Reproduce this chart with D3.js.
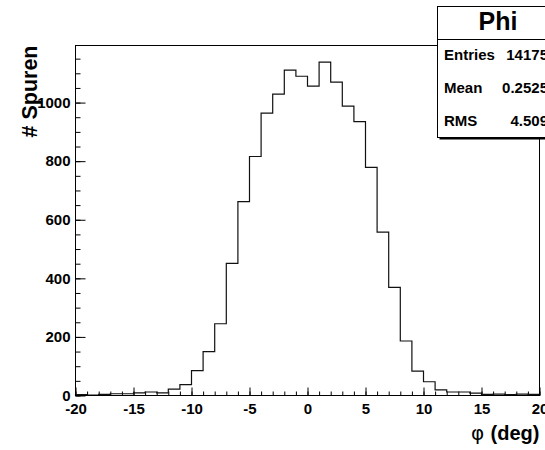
<!DOCTYPE html>
<html>
<head>
<meta charset="utf-8">
<script src="https://cdn.jsdelivr.net/npm/d3@7"></script>
<style>
    body { margin: 0; background: #ffffff; }
    svg text { font-family: "Liberation Sans", Arial, Helvetica, sans-serif; font-weight: bold; fill: #000; }
</style>
</head>
<body>
<svg id="drawing_region"></svg>
<script>
// phi distribution, bins of 1 deg from -20 to 20
const bin_edges = [-20, -19, -18, -17, -16, -15, -14, -13, -12, -11, -10, -9, -8, -7, -6, -5, -4, -3, -2, -1,
                   0, 1, 2, 3, 4, 5, 6, 7, 8, 9, 10, 11, 12, 13, 14, 15, 16, 17, 18, 19, 20];
const counts = [3, 1, 4, 6, 6, 9, 12, 9, 22, 37, 85, 150, 245, 451, 662, 816, 964, 1029, 1111, 1090,
                1056, 1138, 1070, 988, 935, 779, 558, 369, 186, 83, 47, 19, 12, 12, 8, 4, 5, 3, 5, 4];

const x_ticks = [-20, -15, -10, -5, 0, 5, 10, 15, 20];
const x_tick_labels = ["-20", "-15", "-10", "-5", "0", "5", "10", "15", "20"];
const y_ticks = [0, 200, 400, 600, 800, 1000];
const y_tick_labels = ["0", "200", "400", "600", "800", "1000"];

const hist_title = "Phi";
const stat_names = ["Entries", "Mean", "RMS"];
const stat_values = ["14175", "0.2525", "4.509"];

const x_title = "(deg)";
const y_title = "# Spuren";

var config = {
    parent: '#drawing_region',
    width: 545,
    height: 450,
    frame: {left: 75.5, right: 539.5, top: 45.5, bottom: 395.5}
};

const svg = d3.select(config.parent)
    .attr('width', config.width)
    .attr('height', config.height);

const xscale = d3.scaleLinear()
    .domain([bin_edges[0], bin_edges[bin_edges.length - 1]])
    .range([config.frame.left, config.frame.right]);

// ROOT puts the maximum 5% above the highest bin
const yscale = d3.scaleLinear()
    .domain([0, d3.max(counts) * 1.05])
    .range([config.frame.bottom, config.frame.top]);

// minor ticks
svg.append('g')
    .attr('transform', `translate(0, ${config.frame.bottom})`)
    .call(d3.axisBottom(xscale).tickValues(bin_edges).tickSize(-4).tickFormat(''))
    .call(g => g.select('.domain').remove());

svg.append('g')
    .attr('transform', `translate(${config.frame.left}, 0)`)
    .call(d3.axisLeft(yscale).ticks(24).tickSize(-5).tickFormat(''))
    .call(g => g.select('.domain').remove());

// major ticks with labels
const xaxis_group = svg.append('g')
    .attr('transform', `translate(0, ${config.frame.bottom})`)
    .call(d3.axisBottom(xscale)
        .tickValues(x_ticks)
        .tickSize(-8)
        .tickPadding(8)
        .tickFormat((d, i) => x_tick_labels[i]))
    .call(g => g.select('.domain').remove());

xaxis_group.selectAll('text')
    .attr('font-size', 15)
    .attr('font-family', null);

const yaxis_group = svg.append('g')
    .attr('transform', `translate(${config.frame.left}, 0)`)
    .call(d3.axisLeft(yscale)
        .tickValues(y_ticks)
        .tickSize(-10)
        .tickPadding(5)
        .tickFormat((d, i) => y_tick_labels[i]))
    .call(g => g.select('.domain').remove());

yaxis_group.selectAll('text')
    .attr('font-size', 15)
    .attr('font-family', null);

svg.selectAll('.tick line').attr('stroke', '#000');

// histogram outline
const points = [[bin_edges[0], 0]];
counts.forEach((c, i) => {
    points.push([bin_edges[i], c]);
    points.push([bin_edges[i + 1], c]);
});
points.push([bin_edges[bin_edges.length - 1], 0]);

const line = d3.line()
    .x(d => xscale(d[0]))
    .y(d => yscale(d[1]));

svg.append('path')
    .attr('d', line(points))
    .attr('fill', 'none')
    .attr('stroke', '#111')
    .attr('stroke-width', 1.2);

// frame
svg.append('rect')
    .attr('x', config.frame.left)
    .attr('y', config.frame.top)
    .attr('width', config.frame.right - config.frame.left)
    .attr('height', config.frame.bottom - config.frame.top)
    .attr('fill', 'none')
    .attr('stroke', '#000');

// axis titles
svg.append('text')
    .attr('transform', 'rotate(-90)')
    .attr('x', -config.frame.top)
    .attr('y', 37)
    .attr('text-anchor', 'end')
    .attr('font-size', 21.5)
    .text(y_title);

const xt = svg.append('text')
    .attr('x', config.frame.right)
    .attr('y', 440)
    .attr('text-anchor', 'end')
    .attr('font-size', 20);
xt.append('tspan')
    .attr('font-family', '"DejaVu Sans", sans-serif')
    .attr('font-weight', 'normal')
    .text('\u03C6 ');
xt.append('tspan').text(x_title);

// stats box
const box = {x: 437.5, y: 6.5, w: 130, h: 131, sep: 39.5};
svg.append('rect')
    .attr('x', box.x + 2).attr('y', box.y + 2)
    .attr('width', box.w).attr('height', box.h)
    .attr('fill', '#000');
svg.append('rect')
    .attr('x', box.x).attr('y', box.y)
    .attr('width', box.w).attr('height', box.h)
    .attr('fill', '#fff')
    .attr('stroke', '#000');
svg.append('line')
    .attr('x1', box.x).attr('x2', box.x + box.w)
    .attr('y1', box.sep).attr('y2', box.sep)
    .attr('stroke', '#000');

svg.append('text')
    .attr('x', 498)
    .attr('y', 29.5)
    .attr('text-anchor', 'middle')
    .attr('font-size', 25)
    .text(hist_title);

const rowY = d3.scalePoint().domain(stat_names).range([60, 126]);

svg.selectAll('.stat-name')
    .data(stat_names)
    .enter()
    .append('text')
    .attr('class', 'stat-name')
    .attr('x', 444)
    .attr('y', d => rowY(d))
    .attr('font-size', 15)
    .text(d => d);

svg.selectAll('.stat-value')
    .data(stat_values)
    .enter()
    .append('text')
    .attr('class', 'stat-value')
    .attr('x', 548)
    .attr('y', (d, i) => rowY(stat_names[i]))
    .attr('text-anchor', 'end')
    .attr('font-size', 15)
    .text(d => d);
</script>
</body>
</html>
